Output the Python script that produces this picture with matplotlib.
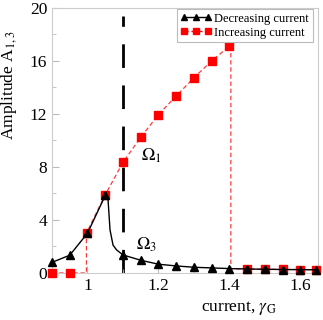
import numpy as np
from matplotlib import pyplot as plt
from matplotlib.ticker import MultipleLocator

plt.rcParams['font.family'] = ['Liberation Serif', 'DejaVu Serif']
plt.rcParams['mathtext.fontset'] = 'stix'

# decreasing current (black triangles)
x_dec = [0.9, 0.95, 1.0, 1.05, 1.1, 1.15, 1.2, 1.25, 1.3, 1.35, 1.4, 1.45, 1.5, 1.55, 1.6, 1.645]
y_dec = [0.8, 1.34, 3.0, 5.9, 1.36, 0.96, 0.66, 0.53, 0.43, 0.38, 0.33, 0.3, 0.28, 0.26, 0.25, 0.24]
# read-off of the drawn curve (drop after the peak)
x_curve = [0.9, 0.95, 1.0, 1.051, 1.058, 1.0635, 1.072, 1.082, 1.1, 1.15, 1.2, 1.25, 1.3, 1.35, 1.4,
           1.45, 1.5, 1.55, 1.6, 1.645]
y_curve = [0.8, 1.34, 3.0, 5.9, 5.5, 3.25, 2.1, 1.74, 1.36, 0.96, 0.66, 0.53, 0.43, 0.38, 0.33,
           0.3, 0.28, 0.26, 0.25, 0.24]

# increasing current (red squares)
x_inc = [0.9, 0.95, 1.0, 1.05, 1.1, 1.15, 1.2, 1.25, 1.3, 1.35, 1.4, 1.45, 1.5, 1.55, 1.6, 1.645]
y_inc = [0.0, 0.0, 3.0, 5.9, 8.35, 10.24, 11.95, 13.36, 14.74, 16.0, 17.13, 0.3, 0.28, 0.27, 0.26, 0.25]
# dashed path including the jumps
x_inc_path = [0.9, 0.95, 0.997, 0.997, 1.05, 1.1, 1.15, 1.2, 1.25, 1.3, 1.35, 1.4, 1.404, 1.404,
              1.45, 1.5, 1.55, 1.6, 1.645]
y_inc_path = [0.0, 0.0, 0.0, 3.0, 5.9, 8.35, 10.24, 11.95, 13.36, 14.74, 16.0, 17.13, 17.13, 0.32,
              0.3, 0.28, 0.27, 0.26, 0.25]

x_vline = 1.1
y_vline_top = 19.4

fig = plt.figure(figsize=(3.23, 3.20), dpi=100)
ax = fig.add_axes([0.161, 0.147, 0.824, 0.828])

ax.plot(x_vline * np.ones(2), [0, y_vline_top], color='black', lw=2.0, dashes=(8.5, 6.3), zorder=1)

ax.plot(x_inc_path, y_inc_path, color='#ff3b3b', lw=0.9, ls=(0, (3.5, 2.2)), zorder=2, clip_on=False)
ax.plot(x_inc, y_inc, ls='none', marker='s', ms=5.2, color='red', mec='red', zorder=3, clip_on=False)

ax.plot(x_curve, y_curve, color='black', lw=1.0, zorder=4, clip_on=False)
ax.plot(x_dec, y_dec, ls='none', marker='^', ms=5.5, color='black', zorder=5, clip_on=False)

# legend handles
h1, = ax.plot([], [], color='black', lw=1.0, marker='^', ms=4)
h2, = ax.plot([], [], color='red', lw=1.0, ls=(0, (3, 2)), marker='s', ms=4.5)
leg = ax.legend([h1, h2], ['Decreasing current', 'Increasing current'], loc='upper right',
                bbox_to_anchor=(0.98, 0.996), fontsize=9, numpoints=3, handlelength=2.5,
                handletextpad=0.2, borderpad=0.3, labelspacing=0.15, borderaxespad=0.0,
                fancybox=False, framealpha=1, edgecolor='#bbbbbb')
leg.get_frame().set_linewidth(0.8)

ax.text(1.152, 8.5, r'$\Omega_1$', fontsize=13)
ax.text(1.137, 1.8, r'$\Omega_3$', fontsize=13)

ax.set_xlim(0.9, 1.65)
ax.set_ylim(0, 20)
ax.xaxis.set_minor_locator(MultipleLocator(0.1))
ax.yaxis.set_major_locator(MultipleLocator(4))
ax.yaxis.set_minor_locator(MultipleLocator(2))
ax.set_xticks([1.0, 1.2, 1.4, 1.6])
ax.set_xticklabels(['1', '1.2', '1.4', '1.6'])
ax.tick_params(which='both', direction='in', color='#bbbbbb', labelsize=12.5)
ax.tick_params(which='major', length=5)
ax.tick_params(which='minor', length=3)
for s in ax.spines.values():
    s.set_color('#cccccc')
    s.set_linewidth(0.8)

ax.set_xlabel(r'current, $\gamma_{\mathrm{G}}$', fontsize=12.5)
ax.set_ylabel(r'Amplitude A$_{1,3}$', fontsize=12.5)
ax.xaxis.set_label_coords(0.70, -0.10)
ax.yaxis.set_label_coords(-0.125, 0.71)

fig.savefig('out.png', dpi=100)
